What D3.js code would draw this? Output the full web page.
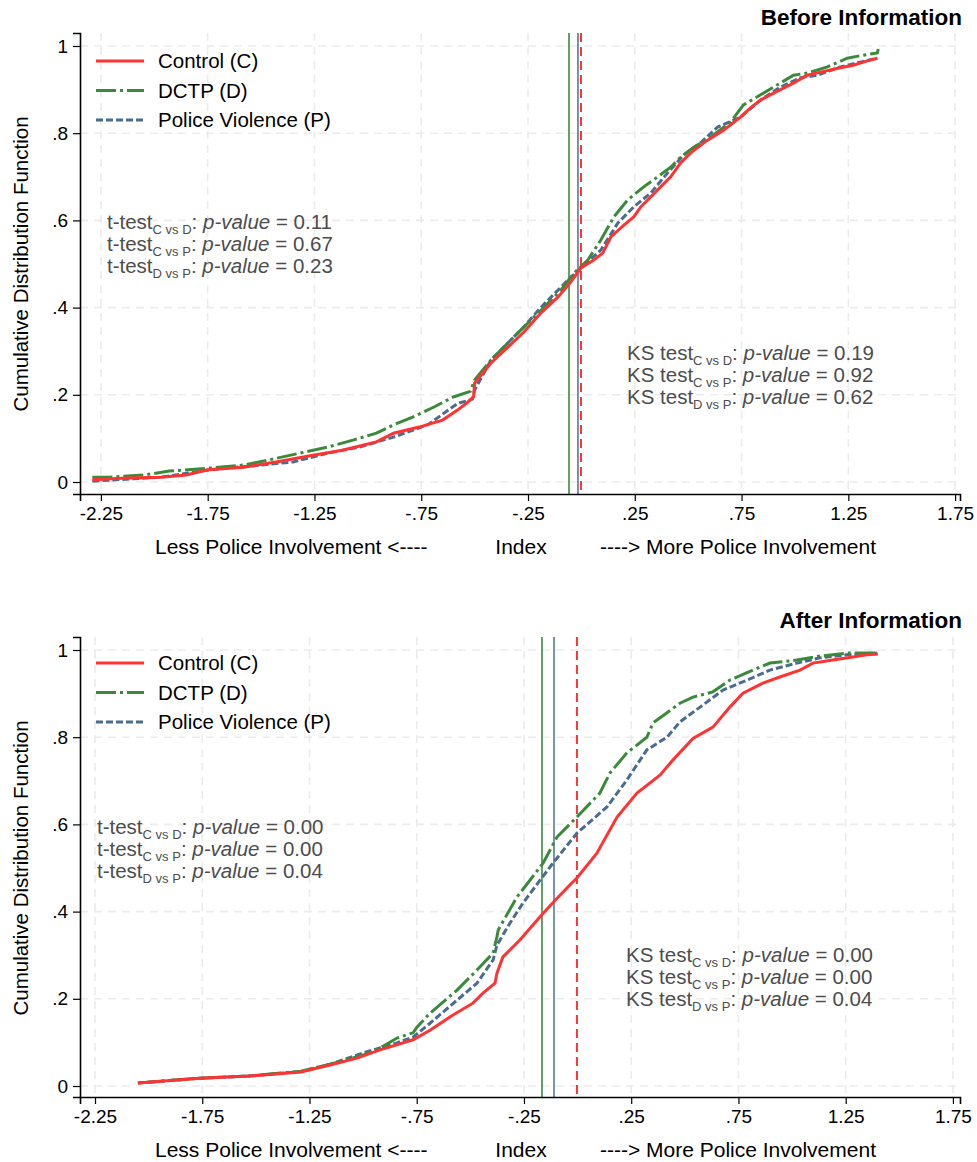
<!DOCTYPE html>
<html>
<head>
<meta charset="utf-8">
<script src="https://cdn.jsdelivr.net/npm/d3@7"></script>
<style>
  body { margin: 0; background: #fff; }
  text { font-family: "Liberation Sans", Arial, sans-serif; }
</style>
</head>
<body>
<div id="chart"></div>
<script>
// tick labels
const xTicks = [-2.25, -1.75, -1.25, -0.75, -0.25, 0.25, 0.75, 1.25, 1.75];
const xTickLabels = ['-2.25', '-1.75', '-1.25', '-.75', '-.25', '.25', '.75', '1.25', '1.75'];
const yTicks = [0, 0.2, 0.4, 0.6, 0.8, 1];
const yTickLabels = ['0', '.2', '.4', '.6', '.8', '1'];

const seriesNames = ['Control (C)', 'DCTP (D)', 'Police Violence (P)'];

// CDF points: [index value, cumulative share]
const beforeControl = [[-2.29, 0.005], [-2.13, 0.009], [-1.97, 0.011], [-1.85, 0.016], [-1.75, 0.028], [-1.58, 0.034],
  [-1.43, 0.046], [-1.27, 0.060], [-1.12, 0.073], [-0.96, 0.092], [-0.88, 0.112], [-0.76, 0.126], [-0.65, 0.142],
  [-0.58, 0.165], [-0.54, 0.180], [-0.505, 0.195], [-0.50, 0.227], [-0.423, 0.273], [-0.343, 0.310], [-0.269, 0.344],
  [-0.189, 0.388], [-0.11, 0.424], [-0.049, 0.459], [-0.002, 0.491], [0.058, 0.509], [0.10, 0.525], [0.138, 0.562],
  [0.199, 0.589], [0.245, 0.608], [0.278, 0.631], [0.325, 0.654], [0.371, 0.677], [0.418, 0.700], [0.465, 0.732],
  [0.512, 0.755], [0.591, 0.784], [0.666, 0.807], [0.745, 0.837], [0.792, 0.858], [0.839, 0.876], [0.90, 0.892],
  [0.993, 0.915], [1.058, 0.933], [1.119, 0.940], [1.213, 0.950], [1.273, 0.956], [1.339, 0.966], [1.386, 0.972]];
const beforeDctp = [[-2.29, 0.011], [-2.21, 0.011], [-2.05, 0.016], [-1.93, 0.025], [-1.74, 0.032], [-1.58, 0.039],
  [-1.47, 0.050], [-1.32, 0.066], [-1.19, 0.080], [-1.07, 0.096], [-0.96, 0.112], [-0.88, 0.131], [-0.79, 0.149],
  [-0.69, 0.172], [-0.60, 0.195], [-0.52, 0.208], [-0.50, 0.234], [-0.423, 0.280], [-0.297, 0.342], [-0.189, 0.394],
  [-0.096, 0.440], [-0.035, 0.479], [0.030, 0.509], [0.091, 0.555], [0.152, 0.608], [0.217, 0.647], [0.292, 0.677],
  [0.357, 0.700], [0.418, 0.722], [0.465, 0.745], [0.526, 0.768], [0.605, 0.791], [0.699, 0.826], [0.759, 0.865],
  [0.839, 0.888], [0.918, 0.911], [0.993, 0.933], [1.058, 0.938], [1.152, 0.952], [1.245, 0.972], [1.320, 0.979],
  [1.386, 0.984], [1.39, 0.993]];
const beforePolice = [[-2.29, 0.002], [-1.97, 0.011], [-1.74, 0.028], [-1.50, 0.039], [-1.35, 0.046], [-1.19, 0.066],
  [-1.04, 0.080], [-0.88, 0.103], [-0.72, 0.131], [-0.58, 0.180], [-0.51, 0.190], [-0.50, 0.211], [-0.423, 0.280],
  [-0.269, 0.356], [-0.189, 0.401], [-0.063, 0.463], [-0.002, 0.491], [0.091, 0.532], [0.171, 0.594], [0.245, 0.631],
  [0.325, 0.663], [0.404, 0.709], [0.479, 0.750], [0.558, 0.778], [0.638, 0.814], [0.745, 0.837], [0.839, 0.876],
  [0.932, 0.906], [1.026, 0.927], [1.105, 0.933], [1.213, 0.952], [1.306, 0.963], [1.386, 0.972]];

const afterControl = [[-2.05, 0.007], [-1.76, 0.018], [-1.53, 0.023], [-1.29, 0.032], [-1.154, 0.048], [-1.029, 0.064],
  [-0.921, 0.083], [-0.767, 0.106], [-0.688, 0.128], [-0.581, 0.163], [-0.488, 0.190], [-0.441, 0.213], [-0.385, 0.236],
  [-0.376, 0.259], [-0.348, 0.296], [-0.269, 0.335], [-0.175, 0.388], [-0.11, 0.423], [-0.036, 0.461], [-0.003, 0.477],
  [0.090, 0.534], [0.184, 0.617], [0.277, 0.672], [0.384, 0.713], [0.445, 0.748], [0.538, 0.797], [0.631, 0.823],
  [0.710, 0.869], [0.771, 0.901], [0.864, 0.924], [0.943, 0.938], [1.037, 0.954], [1.097, 0.970], [1.190, 0.977],
  [1.284, 0.984], [1.349, 0.989], [1.40, 0.991]];
const afterDctp = [[-2.05, 0.007], [-1.76, 0.018], [-1.53, 0.023], [-1.29, 0.034], [-1.154, 0.050], [-1.0, 0.071],
  [-0.921, 0.087], [-0.842, 0.110], [-0.767, 0.122], [-0.749, 0.135], [-0.688, 0.167], [-0.562, 0.220], [-0.469, 0.266],
  [-0.394, 0.305], [-0.376, 0.342], [-0.37, 0.358], [-0.282, 0.434], [-0.222, 0.472], [-0.161, 0.511], [-0.096, 0.571],
  [-0.003, 0.617], [0.104, 0.672], [0.151, 0.718], [0.230, 0.764], [0.323, 0.800], [0.352, 0.833], [0.417, 0.856],
  [0.477, 0.878], [0.538, 0.892], [0.631, 0.904], [0.710, 0.931], [0.818, 0.954], [0.897, 0.970], [1.023, 0.977],
  [1.13, 0.986], [1.256, 0.993], [1.349, 0.993], [1.396, 0.993]];
const afterPolice = [[-2.05, 0.007], [-1.76, 0.018], [-1.53, 0.023], [-1.29, 0.033], [-1.154, 0.050], [-1.0, 0.076],
  [-0.842, 0.099], [-0.767, 0.112], [-0.688, 0.144], [-0.562, 0.197], [-0.469, 0.236], [-0.394, 0.289], [-0.376, 0.323],
  [-0.315, 0.374], [-0.254, 0.420], [-0.175, 0.472], [-0.115, 0.511], [-0.003, 0.580], [0.137, 0.640], [0.230, 0.702],
  [0.323, 0.771], [0.417, 0.800], [0.477, 0.835], [0.571, 0.869], [0.678, 0.908], [0.790, 0.931], [0.897, 0.954],
  [1.023, 0.970], [1.13, 0.982], [1.256, 0.989], [1.396, 0.993]];

// group means (vertical lines): C, D, P
const beforeMeans = [-0.002, -0.058, -0.016];
const afterMeans = [-0.003, -0.166, -0.110];

// test results
const pairLabels = ['C vs D', 'C vs P', 'D vs P'];
const beforeTTest = ['0.11', '0.67', '0.23'];
const beforeKS = ['0.19', '0.92', '0.62'];
const afterTTest = ['0.00', '0.00', '0.04'];
const afterKS = ['0.00', '0.00', '0.04'];

const colors = ['#ff3333', '#3b8a3b', '#4a6d8f'];
const dashes = [null, '20,4,3,4', '7,3'];
const meanColors = ['#ff3333', '#3b8a3b', '#5679a0'];

const W = 977, H = 1162;
const svg = d3.select('#chart').append('svg')
  .attr('width', W)
  .attr('height', H);

const panels = [
  { title: 'Before Information', series: [beforeControl, beforeDctp, beforePolice], means: beforeMeans,
    ttest: beforeTTest, ks: beforeKS, xDomain: [-2.348, 1.773], yDomain: [-0.0275, 1.0298],
    top: 33, bottom: 494, titleY: 25, legendY: 61, tX: 107, tY: 229, ksX: 627, ksY: 360 },
  { title: 'After Information', series: [afterControl, afterDctp, afterPolice], means: afterMeans,
    ttest: afterTTest, ks: afterKS, xDomain: [-2.32, 1.783], yDomain: [-0.0252, 1.0298],
    top: 637, bottom: 1097, titleY: 628, legendY: 663, tX: 97, tY: 834, ksX: 626, ksY: 962 }
];

const left = 80, right = 960;

panels.forEach(p => {
  const x = d3.scaleLinear().domain(p.xDomain).range([left, right]);
  const y = d3.scaleLinear().domain(p.yDomain).range([p.bottom, p.top]);
  const g = svg.append('g');

  // grid
  g.append('g').selectAll('line.gx')
    .data(xTicks).enter().append('line')
    .attr('x1', d => x(d)).attr('x2', d => x(d))
    .attr('y1', p.top).attr('y2', p.bottom)
    .attr('stroke', '#ebebeb').attr('stroke-width', 1.6).attr('stroke-dasharray', '8,6');
  g.append('g').selectAll('line.gy')
    .data(yTicks).enter().append('line')
    .attr('x1', left).attr('x2', right)
    .attr('y1', d => y(d)).attr('y2', d => y(d))
    .attr('stroke', '#ebebeb').attr('stroke-width', 1.6).attr('stroke-dasharray', '8,6');

  // mean lines
  p.means.forEach((m, i) => {
    g.append('line')
      .attr('x1', x(m)).attr('x2', x(m))
      .attr('y1', p.top).attr('y2', p.bottom)
      .attr('stroke', meanColors[i])
      .attr('stroke-width', i === 0 ? 2 : 1.6)
      .attr('stroke-dasharray', i === 0 ? '9,5' : null);
  });

  // cdf curves (police first, control on top)
  const line = d3.line().x(d => x(d[0])).y(d => y(d[1]));
  [2, 1, 0].forEach(i => {
    g.append('path')
      .datum(p.series[i])
      .attr('d', line)
      .attr('fill', 'none')
      .attr('stroke', colors[i])
      .attr('stroke-width', 3)
      .attr('stroke-dasharray', dashes[i]);
  });

  // axes
  const xAxis = g.append('g')
    .attr('transform', `translate(0,${p.bottom})`)
    .call(d3.axisBottom(x).tickValues(xTicks).tickSizeOuter(0).tickSize(7).tickPadding(6)
      .tickFormat((d, i) => xTickLabels[i]));
  const yAxis = g.append('g')
    .attr('transform', `translate(${left},0)`)
    .call(d3.axisLeft(y).tickValues(yTicks).tickSizeOuter(0).tickSize(7).tickPadding(5)
      .tickFormat((d, i) => yTickLabels[i]));
  [xAxis, yAxis].forEach(a => {
    a.select('.domain').attr('stroke', '#000').attr('stroke-width', 1.6);
    a.selectAll('.tick line').attr('stroke', '#000').attr('stroke-width', 1.2);
    a.selectAll('.tick text').attr('font-size', 19).attr('fill', '#000')
      .attr('font-family', '"Liberation Sans", Arial, sans-serif');
  });

  // title
  g.append('text')
    .attr('x', 962).attr('y', p.titleY)
    .attr('text-anchor', 'end')
    .attr('font-size', 22.5).attr('font-weight', 'bold')
    .text(p.title);

  // axis titles
  const xtY = p.bottom + 60;
  g.append('text').attr('x', 155).attr('y', xtY).attr('font-size', 21).text('Less Police Involvement <----');
  g.append('text').attr('x', 521).attr('y', xtY).attr('text-anchor', 'middle').attr('font-size', 21).text('Index');
  g.append('text').attr('x', 738).attr('y', xtY).attr('text-anchor', 'middle').attr('font-size', 21)
    .text('----> More Police Involvement');

  g.append('text')
    .attr('transform', `translate(28,${(y(0) + y(1)) / 2}) rotate(-90)`)
    .attr('text-anchor', 'middle')
    .attr('font-size', 20.5)
    .text('Cumulative Distribution Function');

  // legend
  seriesNames.forEach((name, i) => {
    const ly = p.legendY + i * 29.5;
    g.append('line')
      .attr('x1', 96).attr('x2', 144).attr('y1', ly).attr('y2', ly)
      .attr('stroke', colors[i]).attr('stroke-width', 3)
      .attr('stroke-dasharray', dashes[i]);
    g.append('text')
      .attr('x', 158).attr('y', ly + 7)
      .attr('font-size', 20.5)
      .text(name);
  });

  // test annotations
  const note = (x0, y0, label, vals) => {
    vals.forEach((v, i) => {
      const t = g.append('text')
        .attr('x', x0).attr('y', y0 + i * 21.8)
        .attr('font-size', 20.5).attr('fill', '#4d4d4d');
      t.append('tspan').text(label);
      t.append('tspan').attr('font-size', 13).attr('dy', 5).text(pairLabels[i]);
      t.append('tspan').attr('dy', -5).text(': ');
      t.append('tspan').attr('font-style', 'italic').text('p-value');
      t.append('tspan').text(' = ' + v);
    });
  };
  note(p.tX, p.tY, 't-test', p.ttest);
  note(p.ksX, p.ksY, 'KS test', p.ks);
});
</script>
</body>
</html>
